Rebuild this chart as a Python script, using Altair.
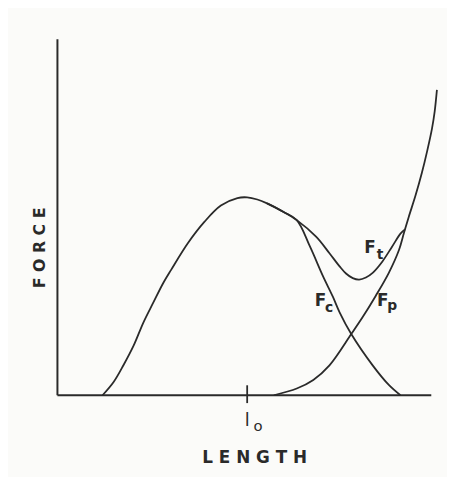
import altair as alt
import pandas as pd

# Active (contractile) force Fc
fc_x = [12.0, 15.0, 17.6, 20.3, 22.9, 25.5, 28.2, 30.3, 34.7, 39.1, 43.5, 47.9, 50.5, 53.2,
        55.8, 60.2, 63.7, 67.2, 70.7, 73.3, 75.1, 78.2, 83.9, 88.2, 91.3]
fc_y = [0, 3.8, 8.5, 14.0, 20.5, 26.0, 31.6, 35.3, 42.7, 48.7, 53.3, 55.4, 55.6, 55.0,
        53.9, 51.5, 49.2, 41.8, 33.4, 27.7, 23.3, 17.2, 8.4, 2.9, 0]
# Total force Ft
ft_x = [55.8, 60.2, 63.7, 68.9, 72.4, 75.1, 76.8, 78.6, 80.3, 82.1, 83.9, 86.5, 89.1, 91.3, 92.5]
ft_y = [53.9, 51.5, 49.2, 44.5, 39.9, 36.2, 34.2, 32.9, 32.5, 33.1, 34.4, 37.6, 41.8, 45.4, 46.6]
# Passive force Fp
fp_x = [57.6, 63.7, 68.1, 72.4, 78.2, 81.2, 84.7, 88.2, 90.9, 92.2, 93.5, 95.3, 97.0, 98.4,
        99.7, 100.4, 101.0]
fp_y = [0, 1.9, 4.3, 8.4, 17.2, 21.9, 27.9, 34.4, 40.8, 45.5, 50.1, 56.1, 62.5, 68.6,
        75.0, 79.7, 85.8]

# labels
main_text = ["F", "F", "F"]
main_x = [83.2, 70.0, 86.6]
main_y = [40.0, 25.0, 25.0]
sub_text = ["t", "c", "p"]
sub_x = [85.9, 72.3, 89.1]
sub_y = [38.4, 23.4, 23.9]
l0_x = 50.5
x_title = "L E N G T H"
y_title = "F O R C E"

X_MAX = 389 / 3.8
xs = alt.Scale(domain=[0, X_MAX], nice=False, zero=False)
ys = alt.Scale(domain=[0, 100], nice=False, zero=False)
INK = "#2a2a2a"
font = "DejaVu Sans"


def curve(xv, yv, name):
    return pd.DataFrame({"x": xv, "y": yv, "s": [name] * len(xv)})


curves = pd.concat([curve(fc_x, fc_y, "Fc"), curve(ft_x, ft_y, "Ft"), curve(fp_x, fp_y, "Fp")],
                   ignore_index=True)

lines = alt.Chart(curves).mark_line(interpolate="catmull-rom", color=INK, strokeWidth=1.8).encode(
    x=alt.X("x:Q", scale=xs, axis=None),
    y=alt.Y("y:Q", scale=ys, axis=None),
    detail="s:N",
)

axes_df = pd.DataFrame({"x": [0.0, 0.0], "x2": [0.0, 99.5], "y": [0.0, 0.0], "y2": [100.0, 0.0]})
axes = alt.Chart(axes_df).mark_rule(color=INK, strokeWidth=2).encode(
    x=alt.X("x:Q", scale=xs, axis=None), x2="x2:Q",
    y=alt.Y("y:Q", scale=ys, axis=None), y2="y2:Q"
)

tick_df = pd.DataFrame({"x": [l0_x], "y": [-2.2], "y2": [2.8]})
tick = alt.Chart(tick_df).mark_rule(color=INK, strokeWidth=1.8).encode(
    x=alt.X("x:Q", scale=xs, axis=None), y=alt.Y("y:Q", scale=ys, axis=None), y2="y2:Q"
)


def text_layer(xv, yv, tv, size, weight="bold", angle=0, baseline="alphabetic"):
    df = pd.DataFrame({"x": xv, "y": yv, "t": tv})
    kw = dict(font=font, fontSize=size, fontWeight=weight, color=INK,
              align="center", baseline=baseline)
    if angle:
        kw["angle"] = angle
    return alt.Chart(df).mark_text(**kw).encode(
        x=alt.X("x:Q", scale=xs, axis=None),
        y=alt.Y("y:Q", scale=ys, axis=None),
        text="t:N",
    )


mains = text_layer(main_x, main_y, main_text, 17)
subs = text_layer(sub_x, sub_y, sub_text, 14)
l_main = text_layer([l0_x], [-8.6], ["l"], 18, weight="normal")
l_sub = text_layer([53.4], [-10.0], ["o"], 15, weight="normal")
xt = text_layer([52.5], [-18.9], [x_title], 17)
yt = text_layer([-4.5], [41.4], [y_title], 16, angle=270, baseline="middle")

chart = alt.layer(axes, tick, lines, mains, subs, l_main, l_sub, xt, yt).properties(
    width=389, height=360,
    autosize=alt.AutoSizeParams(type="none"),
    padding={"left": 50, "top": 29, "right": 5, "bottom": 80},
    background="#fbfbf9",
).configure_view(strokeWidth=0)

chart.save("out.html", embed_options={"renderer": "svg", "actions": False})
